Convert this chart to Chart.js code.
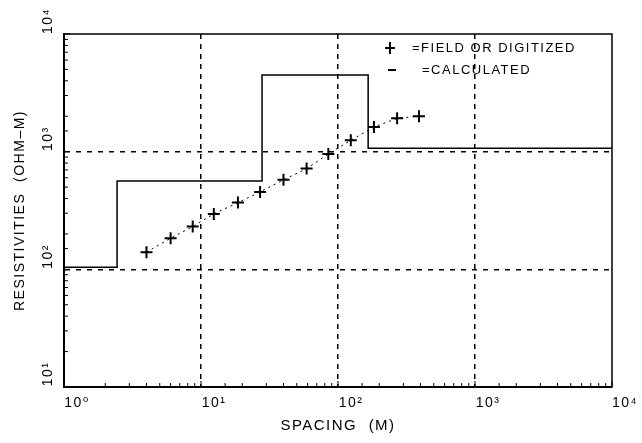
<!DOCTYPE html>
<html>
<head>
<meta charset="utf-8">
<script src="https://cdn.jsdelivr.net/npm/chart.js@4"></script>
<style>
  body { margin: 0; background: #fff; }
  #wrap { width: 642px; height: 443px; position: relative; }
</style>
</head>
<body>
<div id="wrap"><canvas id="chart"></canvas></div>
<script>
var spacing = [4, 6, 8.7, 12.4, 18.6, 27, 40, 59, 85, 124, 183, 270, 390];
var field_rho = [140, 184, 231, 296, 369, 455, 576, 718, 955, 1250, 1620, 1920, 2000];

// calculated layered model: layer start (spacing) and resistivity
var layer_top = [1, 2.44, 27.9, 166, 10000];
var layer_rho = [104, 564, 4490, 1070, 1070];

var x_tick_labels = ['10\u2070', '10\u00b9', '10\u00b2', '10\u00b3', '10\u2074'];
var y_tick_labels = ['10\u00b9', '10\u00b2', '10\u00b3', '10\u2074'];

var legend_text = ['=FIELD OR DIGITIZED', '=CALCULATED'];

Chart.defaults.font.family = "'Liberation Sans', 'DejaVu Sans', sans-serif";
Chart.defaults.color = '#000';

function expOf(v){
    var e = Math.log10(v);
    if (Math.abs(e - Math.round(e)) < 1e-6) return Math.round(e);
    return null;
}

var gridColor = function(ctx){
    var e = expOf(ctx.tick.value);
    if (e === null) return 'rgba(0,0,0,0)';
    var s = ctx.scale;
    if (ctx.tick.value <= s.min || ctx.tick.value >= s.max) return 'rgba(0,0,0,0)';
    return '#000';
};

// the old plotter lettering is wide, so space the letters out a bit
var spacing_plugin = {
    id: 'letters',
    beforeLayout: function(chart){ chart.ctx.letterSpacing = '1.5px'; },
    beforeDraw: function(chart){ chart.ctx.letterSpacing = '1.5px'; }
};

// frame, minor tick marks and the legend
var extras = {
    id: 'extras',
    afterDraw: function(chart){
        var c = chart.ctx, a = chart.chartArea;
        var xs = chart.scales.x, ys = chart.scales.y;
        c.save();
        c.strokeStyle = '#000';
        c.lineWidth = 1.5;
        c.beginPath();
        c.moveTo(a.left, a.top); c.lineTo(a.right, a.top); c.lineTo(a.right, a.bottom);
        c.stroke();
        c.lineWidth = 1;
        c.beginPath();
        xs.ticks.forEach(function(t){
            var px = xs.getPixelForValue(t.value);
            var len = expOf(t.value) === null ? 4 : 6;
            c.moveTo(px, a.bottom); c.lineTo(px, a.bottom - len);
        });
        ys.ticks.forEach(function(t){
            var py = ys.getPixelForValue(t.value);
            var len = expOf(t.value) === null ? 4 : 6;
            c.moveTo(a.left, py); c.lineTo(a.left + len, py);
        });
        c.stroke();

        // legend
        var lx = 390, ly1 = 48, ly2 = 70;
        c.lineWidth = 2;
        c.beginPath();
        c.moveTo(lx - 5, ly1); c.lineTo(lx + 5, ly1);
        c.moveTo(lx, ly1 - 6); c.lineTo(lx, ly1 + 6);
        c.moveTo(lx - 2, ly2); c.lineTo(lx + 6, ly2);
        c.stroke();
        c.fillStyle = '#000';
        c.letterSpacing = '1.5px';
        c.font = "13px 'Liberation Sans', 'DejaVu Sans', sans-serif";
        c.textBaseline = 'middle';
        c.fillText(legend_text[0], 412, ly1);
        c.fillText(legend_text[1], 422, ly2);
        c.restore();
    }
};

var ctx = document.getElementById('chart').getContext('2d');
var chart = new Chart(ctx, {
    type: 'scatter',
    data: {
        datasets: [{
            label: 'CALCULATED',
            data: layer_top.map(function(x, i){ return {x: x, y: layer_rho[i]}; }),
            showLine: true,
            stepped: 'before',
            borderColor: '#000',
            borderWidth: 1.5,
            pointRadius: 0,
            fill: false
        }, {
            label: 'FIELD OR DIGITIZED',
            data: spacing.map(function(x, i){ return {x: x, y: field_rho[i]}; }),
            showLine: true,
            borderColor: '#000',
            borderWidth: 1,
            borderDash: [2, 4],
            pointStyle: 'cross',
            pointRadius: 6,
            pointBorderWidth: 2,
            pointBorderColor: '#000',
            fill: false
        }]
    },
    options: {
        responsive: true,
        maintainAspectRatio: false,
        animation: false,
        layout: { padding: { top: 34, right: 30, left: 0, bottom: 0 } },
        plugins: {
            legend: { display: false },
            tooltip: { enabled: false }
        },
        scales: {
            x: {
                type: 'logarithmic',
                min: 1,
                max: 10000,
                afterFit: function(s){ s.height = 56; },
                border: { display: true, color: '#000', width: 2, dash: [5, 5] },
                grid: { color: gridColor, lineWidth: 1.5, drawTicks: false },
                ticks: {
                    autoSkip: false,
                    maxRotation: 0,
                    minRotation: 0,
                    padding: 8,
                    labelOffset: 13,
                    font: { size: 14 },
                    callback: function(v){
                        var e = expOf(v);
                        return e === null ? '' : x_tick_labels[e];
                    }
                },
                title: { display: true, text: 'SPACING  (M)', font: { size: 15 }, padding: { top: 4, bottom: 8 } }
            },
            y: {
                type: 'logarithmic',
                min: 10,
                max: 10000,
                afterFit: function(s){ s.width = 64; },
                border: { display: true, color: '#000', width: 2, dash: [5, 6] },
                grid: { color: gridColor, lineWidth: 1.5, drawTicks: false },
                ticks: {
                    autoSkip: false,
                    minRotation: 90,
                    maxRotation: 90,
                    crossAlign: 'center',
                    padding: 3,
                    labelOffset: -13,
                    font: { size: 14 },
                    callback: function(v){
                        var e = expOf(v);
                        return e === null ? '' : y_tick_labels[e - 1];
                    }
                },
                title: { display: true, text: 'RESISTIVITIES  (OHM\u2013M)', font: { size: 14 }, padding: { top: 12, bottom: 0 } }
            }
        }
    },
    plugins: [spacing_plugin, extras]
});
</script>
</body>
</html>
